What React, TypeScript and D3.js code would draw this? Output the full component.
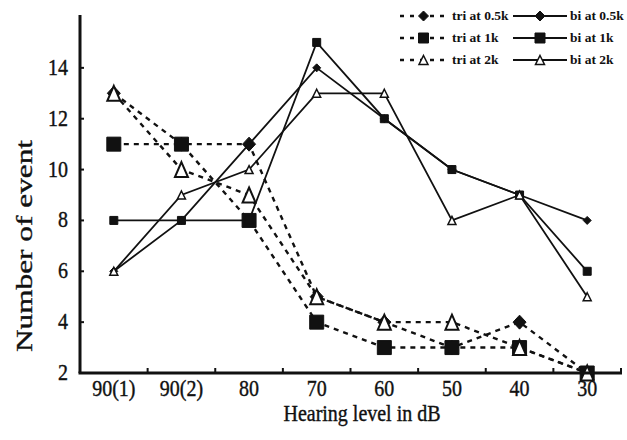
import React from "react";
import * as d3 from "d3";

// hearing level categories (x axis)
const categories = ["90(1)", "90(2)", "80", "70", "60", "50", "40", "30"];

// dashed series (tri)
const triHalfK = [13, 11, 11, 5, 4, 3, 4, 2];
const triOneK = [11, 11, 8, 4, 3, 3, 3, 2];
const triTwoK = [13, 10, 9, 5, 4, 4, 3, 2];

// solid series (bi)
const biHalfK = [6, 8, 11, 14, 12, 10, 9, 8];
const biOneK = [8, 8, 8, 15, 12, 10, 9, 6];
const biTwoK = [6, 9, 10, 13, 13, 8, 9, 5];

const yTicks = [2, 4, 6, 8, 10, 12, 14];

const seriesNames = [
  "tri at 0.5k",
  "tri at 1k",
  "tri at 2k",
  "bi at 0.5k",
  "bi at 1k",
  "bi at 2k",
];

type Marker = "diamond" | "square" | "triangle";

const W = 627;
const H = 440;
const margin = { top: 17, right: 6, bottom: 67, left: 80 };
const ink = "#111";
const font = "'Liberation Serif', 'Times New Roman', serif";

const markerPath = (m: Marker, cx: number, cy: number, w: number, h: number) => {
  if (m === "square") {
    return `M${cx - w / 2},${cy - h / 2}h${w}v${h}h${-w}Z`;
  }
  if (m === "diamond") {
    return `M${cx},${cy - h / 2}L${cx + w / 2},${cy}L${cx},${cy + h / 2}L${cx - w / 2},${cy}Z`;
  }
  return `M${cx},${cy - h / 2}L${cx + w / 2},${cy + h / 2}L${cx - w / 2},${cy + h / 2}Z`;
};

const sizes = {
  big: { square: [14, 14], diamond: [13, 14], triangle: [13, 15] },
  small: { square: [8, 8], diamond: [8, 8], triangle: [8, 8] },
  legend: { square: [10, 10], diamond: [10, 10], triangle: [9, 9] },
};

const MarkerShape = ({
  m,
  cx,
  cy,
  kind,
}: {
  m: Marker;
  cx: number;
  cy: number;
  kind: "big" | "small" | "legend";
}) => {
  const size = sizes[kind][m];
  const open = m === "triangle";
  return (
    <path
      d={markerPath(m, cx, cy, size[0], size[1])}
      fill={open ? "#fff" : ink}
      stroke={ink}
      strokeWidth={open ? (kind === "big" ? 2 : 1.5) : 1}
    />
  );
};

// text drawn slightly taller than wide, like the scanned original
const Label = ({
  x,
  y,
  anchor,
  size,
  children,
}: {
  x: number;
  y: number;
  anchor: "start" | "middle" | "end";
  size: number;
  children: React.ReactNode;
}) => (
  <text
    transform={`translate(${x},${y}) scale(1,1.12)`}
    textAnchor={anchor}
    fontFamily={font}
    fontSize={size}
    fill={ink}
    stroke={ink}
    strokeWidth={0.35}
  >
    {children}
  </text>
);

export default function App() {
  const x = d3
    .scaleBand<string>()
    .domain(categories)
    .range([margin.left, W - margin.right]);
  const cx = (c: string) => (x(c) as number) + x.bandwidth() / 2;
  const y = d3.scaleLinear().domain([2, 16]).range([H - margin.bottom, margin.top]);

  const series = [
    { name: seriesNames[0], values: triHalfK, dashed: true, marker: "diamond" as Marker },
    { name: seriesNames[1], values: triOneK, dashed: true, marker: "square" as Marker },
    { name: seriesNames[2], values: triTwoK, dashed: true, marker: "triangle" as Marker },
    { name: seriesNames[3], values: biHalfK, dashed: false, marker: "diamond" as Marker },
    { name: seriesNames[4], values: biOneK, dashed: false, marker: "square" as Marker },
    { name: seriesNames[5], values: biTwoK, dashed: false, marker: "triangle" as Marker },
  ];

  const line = d3
    .line<number>()
    .x((_, i) => cx(categories[i]))
    .y((d) => y(d));

  const y0 = y(2);
  const bounds = categories.map((c) => (x(c) as number) + x.bandwidth());

  return (
    <div style={{ position: "absolute", left: 0, top: 0 }}>
      <svg width={W} height={H} style={{ display: "block", background: "#fff" }}>
        {/* lines */}
        {series.map((s) => (
          <path
            key={s.name + "-line"}
            d={line(s.values) || ""}
            fill="none"
            stroke={ink}
            strokeWidth={s.dashed ? 2.4 : 1.8}
            strokeDasharray={s.dashed ? "5,5" : undefined}
          />
        ))}
        {/* markers */}
        {series.map((s) =>
          s.values.map((v, i) => (
            <MarkerShape
              key={s.name + i}
              m={s.marker}
              cx={cx(categories[i])}
              cy={y(v)}
              kind={s.dashed ? "big" : "small"}
            />
          ))
        )}

        {/* axes */}
        <line x1={margin.left} x2={margin.left} y1={15} y2={y0} stroke={ink} strokeWidth={3} />
        <line x1={margin.left - 1.5} x2={W - margin.right + 1} y1={y0} y2={y0} stroke={ink} strokeWidth={3} />
        {yTicks.map((t) => (
          <g key={"yt" + t}>
            <line x1={margin.left} x2={margin.left + 4} y1={y(t)} y2={y(t)} stroke={ink} strokeWidth={2} />
            <Label x={68} y={y(t) + 7} anchor="end" size={20}>
              {t}
            </Label>
          </g>
        ))}
        {bounds.map((b, i) => (
          <line key={"xt" + i} x1={b} x2={b} y1={y0} y2={y0 - 5} stroke={ink} strokeWidth={2} />
        ))}
        {categories.map((c) => (
          <Label key={"xl" + c} x={cx(c)} y={396} anchor="middle" size={20}>
            {c}
          </Label>
        ))}
        <Label x={362} y={421} anchor="middle" size={20}>
          Hearing level in dB
        </Label>
        <text
          transform="translate(32,246) rotate(-90)"
          textAnchor="middle"
          fontFamily={font}
          fontSize={24}
          textLength={212}
          lengthAdjust="spacingAndGlyphs"
          fill={ink}
          stroke={ink}
          strokeWidth={0.35}
        >
          Number of event
        </text>

        {/* legend */}
        {series.map((s, i) => {
          const col = s.dashed ? 0 : 1;
          const row = i % 3;
          const ly = 16 + row * 22;
          const lx0 = col === 0 ? 400 : 513;
          const lx1 = col === 0 ? 447 : 567;
          const tx = col === 0 ? 452 : 570;
          return (
            <g key={"lg" + s.name}>
              <line
                x1={lx0}
                x2={lx1}
                y1={ly}
                y2={ly}
                stroke={ink}
                strokeWidth={s.dashed ? 2.4 : 1.8}
                strokeDasharray={s.dashed ? "4,6" : undefined}
              />
              <MarkerShape m={s.marker} cx={(lx0 + lx1) / 2} cy={ly} kind="legend" />
              <text
                x={tx}
                y={ly}
                dy="0.33em"
                fontFamily={font}
                fontWeight="bold"
                fontSize={13.5}
                fill={ink}
              >
                {s.name}
              </text>
            </g>
          );
        })}
      </svg>
    </div>
  );
}
